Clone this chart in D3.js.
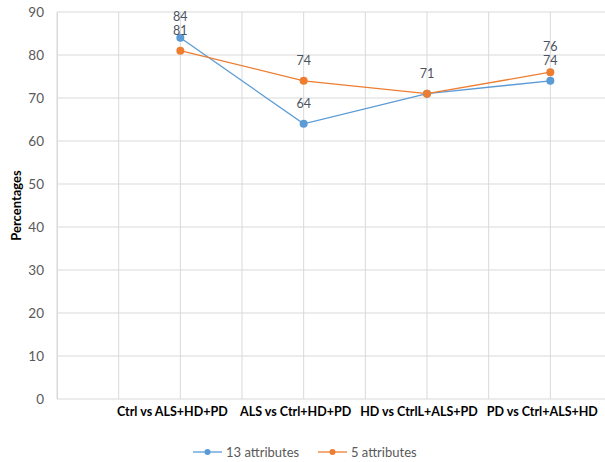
<!DOCTYPE html>
<html>
<head>
<meta charset="utf-8">
<script src="https://cdn.jsdelivr.net/npm/d3@7"></script>
<style>
  html, body { margin: 0; padding: 0; background: #ffffff; }
  svg { display: block; }
</style>
</head>
<body>
<div id="chart"></div>
<script>
const categories = ["Ctrl vs ALS+HD+PD", "ALS vs Ctrl+HD+PD", "HD vs CtrlL+ALS+PD", "PD vs Ctrl+ALS+HD"];
const seriesNames = ["13 attributes", "5 attributes"];
const values13 = [84, 64, 71, 74];
const values5 = [81, 74, 71, 76];
const yTicks = [0, 10, 20, 30, 40, 50, 60, 70, 80, 90];
const colors = ["#5B9BD5", "#ED7D31"];

(function () {
const W = 605, H = 462;
const font = "Lato, 'Open Sans', sans-serif";
const svg = d3.select("#chart").append("svg").attr("width", W).attr("height", H);

const pLeft = 57, pRight = 612, pTop = 12, pBottom = 399;
const x = d3.scaleLinear().domain([-1, 3.5]).range([pLeft, pRight]);
const y = d3.scaleLinear().domain([0, 90]).range([pBottom, pTop]);

const vGrid = d3.range(-1, 3.51, 0.5);
svg.append("g").selectAll("line").data(vGrid).join("line")
  .attr("x1", d => x(d)).attr("x2", d => x(d))
  .attr("y1", pTop).attr("y2", pBottom)
  .attr("stroke", "#D9D9D9").attr("stroke-width", 1);

svg.append("g").selectAll("line").data(yTicks).join("line")
  .attr("x1", pLeft).attr("x2", pRight)
  .attr("y1", d => y(d)).attr("y2", d => y(d))
  .attr("stroke", "#D9D9D9").attr("stroke-width", 1);

const yAxis = svg.append("g").attr("transform", `translate(${pLeft},0)`)
  .call(d3.axisLeft(y).tickValues(yTicks).tickSize(0).tickPadding(13));
yAxis.select(".domain").attr("stroke", "#D9D9D9");
yAxis.selectAll("text").attr("font-family", font).attr("font-size", 13.5).attr("fill", "#595959");

svg.append("g").selectAll("text").data(categories).join("text")
  .attr("x", (d, i) => x(i) - 8).attr("y", 416)
  .attr("text-anchor", "middle")
  .attr("font-family", font).attr("font-weight", "bold").attr("font-size", 12.5)
  .attr("fill", "#000")
  .text(d => d);

svg.append("text")
  .attr("transform", `translate(21,${(pTop + pBottom) / 2}) rotate(-90)`)
  .attr("text-anchor", "middle")
  .attr("font-family", font).attr("font-weight", "bold").attr("font-size", 13)
  .attr("fill", "#000")
  .text("Percentages");

const series = [values13, values5];
const line = d3.line().x((d, i) => x(i)).y(d => y(d));

series.forEach((vals, s) => {
  svg.append("path").datum(vals)
    .attr("d", line).attr("fill", "none")
    .attr("stroke", colors[s]).attr("stroke-width", 1.3);
});
series.forEach((vals, s) => {
  svg.append("g").selectAll("circle").data(vals).join("circle")
    .attr("cx", (d, i) => x(i)).attr("cy", d => y(d)).attr("r", 4)
    .attr("fill", colors[s]);
});

// data labels: one per distinct value per category, nudged apart when close
const labelFont = 12.5, gap = 14;
categories.forEach((c, i) => {
  const vals = Array.from(new Set(series.map(v => v[i]))).sort((a, b) => a - b);
  let prevY = Infinity;
  vals.forEach(v => {
    let ly = y(v) - 16;
    if (prevY - ly < gap) ly = prevY - gap;
    prevY = ly;
    svg.append("text")
      .attr("x", x(i)).attr("y", ly)
      .attr("text-anchor", "middle")
      .attr("font-family", font).attr("font-size", labelFont)
      .attr("fill", "#4a525e")
      .text(v);
  });
});

const legendX = [193, 318];
seriesNames.forEach((name, s) => {
  const g = svg.append("g").attr("transform", `translate(${legendX[s]},452)`);
  g.append("line").attr("x1", 0).attr("x2", 29).attr("y1", 0).attr("y2", 0)
    .attr("stroke", colors[s]).attr("stroke-width", 1.3);
  g.append("circle").attr("cx", 14.5).attr("cy", 0).attr("r", 3).attr("fill", colors[s]);
  g.append("text").attr("x", 33).attr("y", 0).attr("dy", "0.35em")
    .attr("font-family", font).attr("font-size", 13).attr("fill", "#595959")
    .text(name);
});
})();
</script>
</body>
</html>
